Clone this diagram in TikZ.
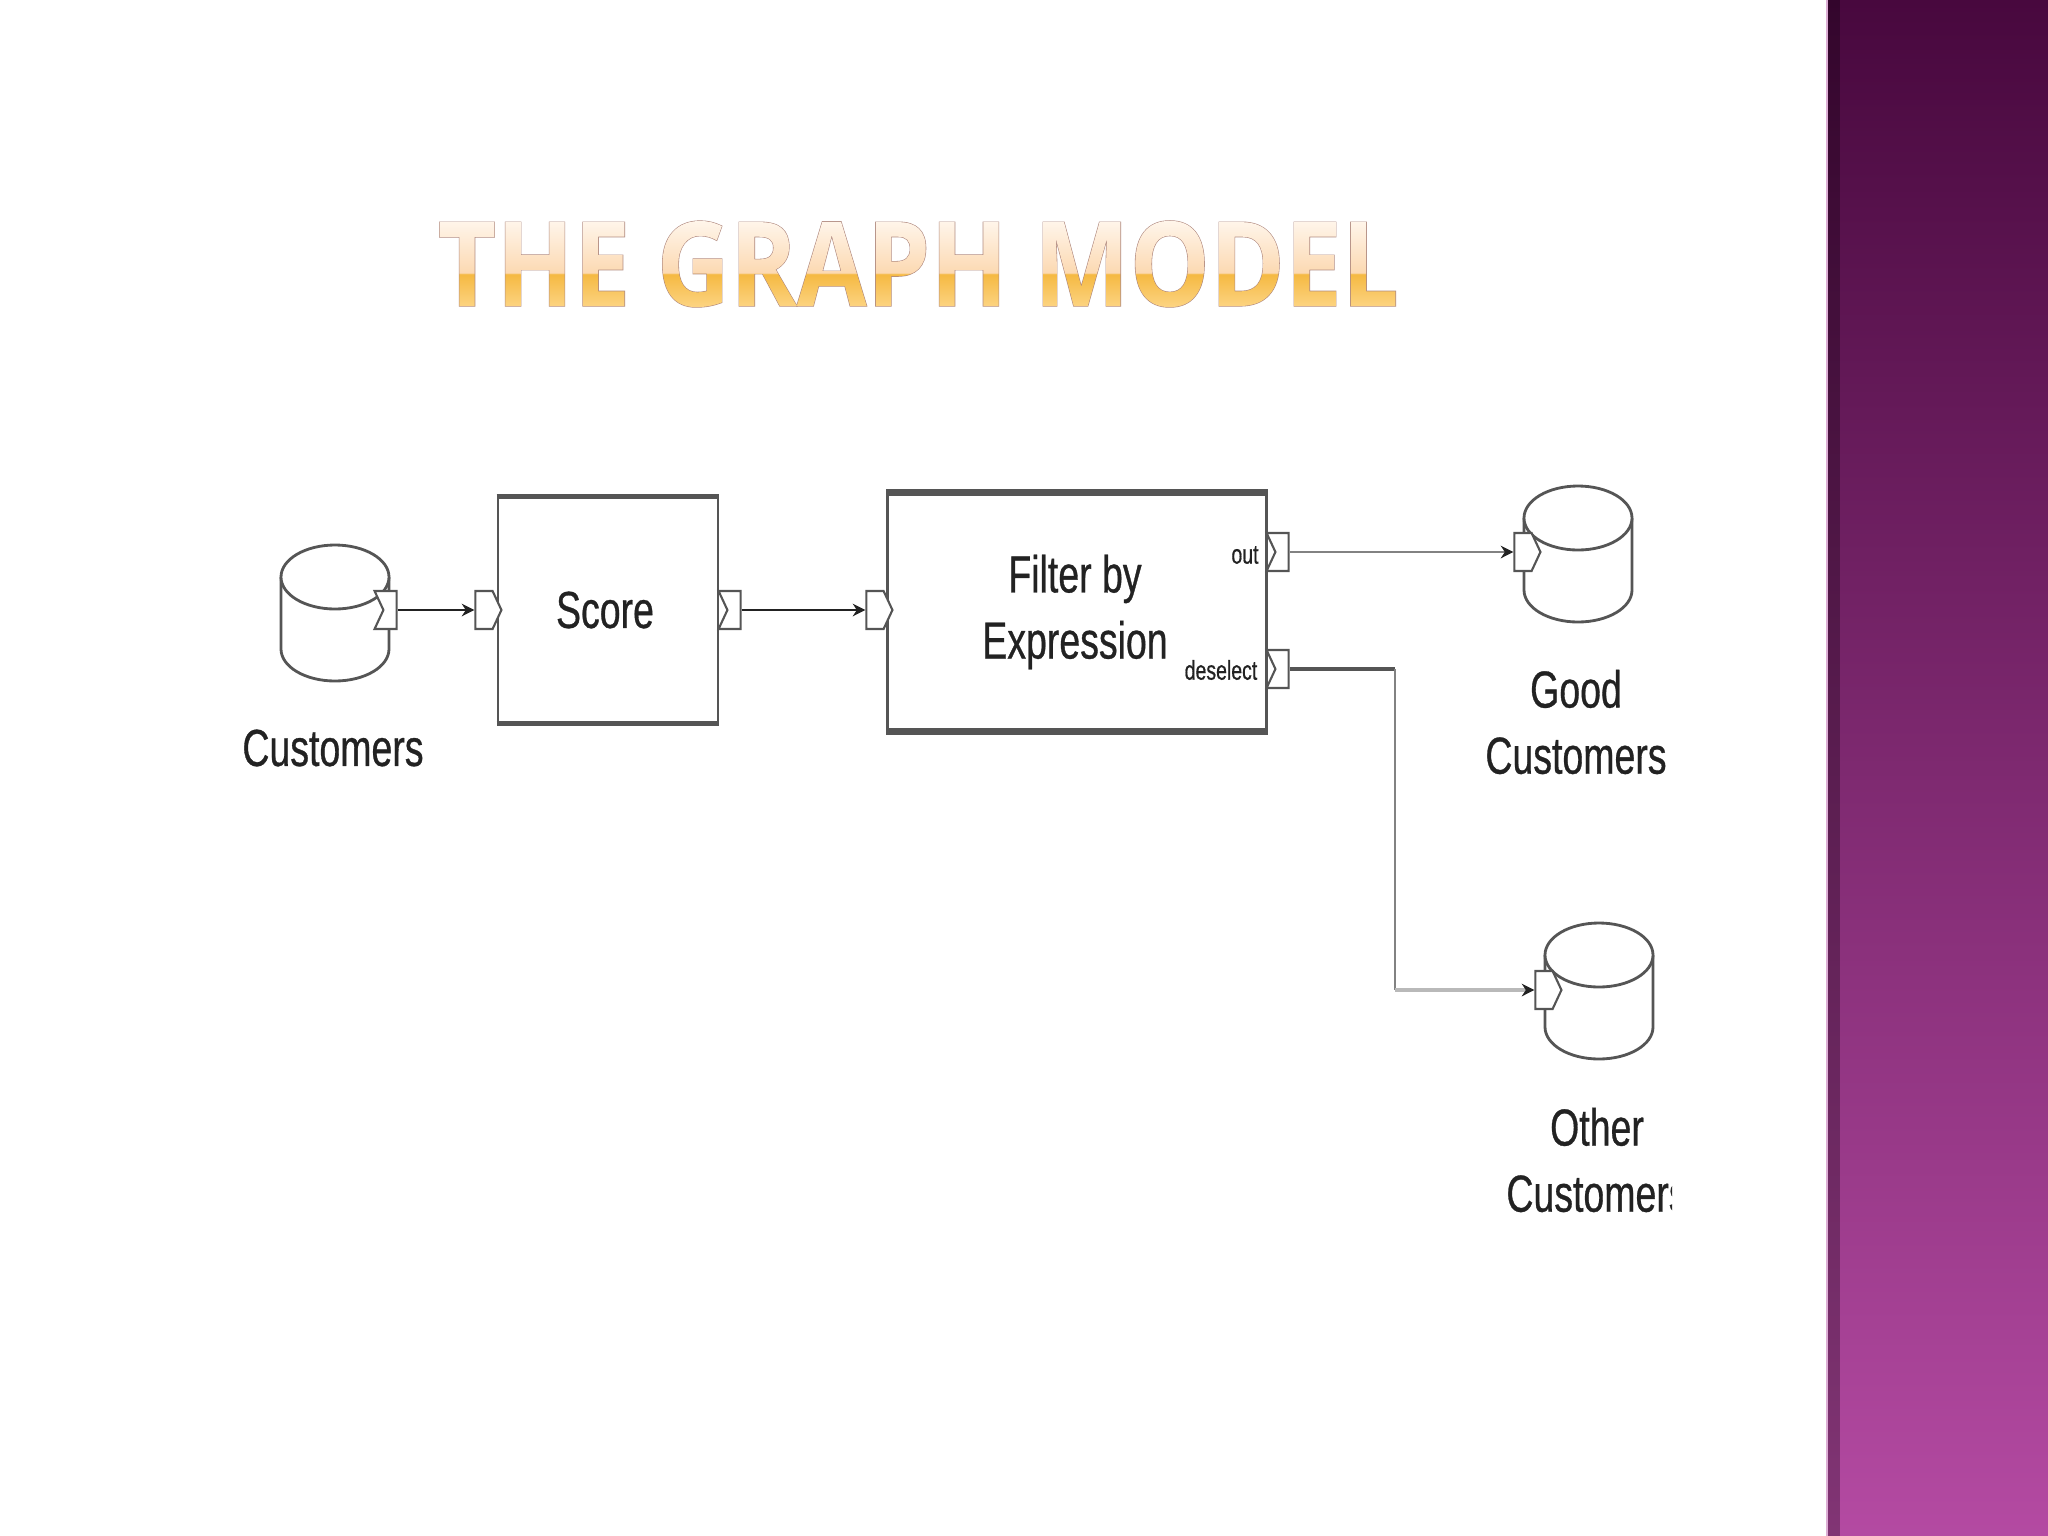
\documentclass[tikz,border=0pt]{standalone}
\usepackage{fontspec}
\usepackage{xcolor}
\setmainfont{Liberation Sans}
\newfontfamily\labelfont[FakeStretch=0.72,FakeBold=0.6]{Liberation Sans}
\newfontfamily\titlefont[FakeStretch=0.862]{Open Sans}
\newfontfamily\titleedge[FakeStretch=0.862,FakeBold=1.0]{Open Sans}
\definecolor{gmink}{RGB}{34,34,34}
\definecolor{gmline}{RGB}{85,85,85}
\definecolor{gmgray}{RGB}{130,130,130}
\definecolor{gmpale}{RGB}{185,185,185}
\definecolor{gmedge}{RGB}{176,138,128}
\definecolor{gmpanelT}{RGB}{72,8,62}
\definecolor{gmpanelB}{RGB}{180,74,162}
\definecolor{gmcreamA}{RGB}{255,247,238}
\definecolor{gmcreamB}{RGB}{252,217,178}
\definecolor{gmorangeA}{RGB}{245,185,66}
\definecolor{gmorangeB}{RGB}{253,214,135}
\usetikzlibrary{arrows.meta,positioning,shapes.geometric,shapes.symbols}
\pgfdeclareverticalshading{titlegrad}{280bp}{
  color(0bp)=(gmorangeB); color(10bp)=(gmorangeA);
  color(10.4bp)=(gmcreamB); color(26bp)=(gmcreamA)}
\newcommand\gmtitle{\special{pdf:code q 7 Tr}\rlap{THE GRAPH MODEL}\special{pdf:code 0 Tr}%
  \hspace{-3pt}\raisebox{-1pt}{\pgfuseshading{titlegrad}}\special{pdf:code Q}}
\tikzset{
  stagebox/.style={draw=gmline, line width=0.7pt, fill=white, inner sep=0pt},
  stagecap/.style={draw=gmline, line width=1.5pt},
  store/.pic={
    \draw[gmline, line width=0.8pt, fill=white] (-54,-36) -- (-54,36)
      arc[start angle=180, end angle=0, x radius=54, y radius=32] -- (54,-36);
    \draw[gmline, line width=0.8pt, fill=white] (0,-36) circle[x radius=54, y radius=32];
  },
  inport/.style={signal, signal to=east, signal pointer angle=130, draw=gmline, line width=0.6pt,
    fill=white, minimum width=0.26cm, minimum height=0.38cm, inner sep=0pt},
  outport/.style={signal, signal from=west, signal to=nowhere, signal pointer angle=130, draw=gmline,
    line width=0.6pt, fill=white, minimum width=0.22cm, minimum height=0.38cm, inner sep=0pt},
  biglabel/.style={font=\labelfont\fontsize{14.8}{18.8}\selectfont, text=gmink, align=center, inner sep=0pt},
  tinylabel/.style={font=\labelfont\fontsize{7.7}{9}\selectfont, text=gmink, inner sep=0pt},
  flow/.style={-{Stealth[length=3.6pt,width=3.6pt]}, draw=gmink, line width=0.6pt},
}
\begin{document}
\begin{tikzpicture}[x=0.01cm, y=-0.01cm]
\useasboundingbox (0,0) rectangle (2048,1536);
% Side panel
\shade[top color=gmpanelT, bottom color=gmpanelB] (1826,0) rectangle (2048,1536);
\fill[gmpanelB!45!white] (1826,0) rectangle (1828,1536);
\fill[black, opacity=0.28] (1828,0) rectangle (1840,1536);
% Title
\node[inner sep=0pt, anchor=base west, text=gmedge, font=\titleedge\bfseries\fontsize{33.4}{36}\selectfont] (title) at (437,306) {THE GRAPH MODEL};
\node[inner sep=0pt, anchor=base west, font=\titlefont\bfseries\fontsize{33.4}{36}\selectfont] (titlefill) at (437,306) {\gmtitle};
% Stages
\node[stagebox, minimum width=2.20cm, minimum height=2.24cm] (score) at (608,610) {};
\node[biglabel] (scoretext) at (605,610) {Score};
\draw[stagecap] (score.north west) -- (score.north east);
\draw[stagecap] (score.south west) -- (score.south east);
\node[stagebox, minimum width=3.79cm, minimum height=2.37cm] (filter) at (1077,612) {};
\node[biglabel] (filtertext) at (1075,612) {Filter by\\Expression};
\draw[stagecap, line width=2pt] (filter.north west) -- (filter.north east);
\draw[stagecap, line width=2pt] (filter.south west) -- (filter.south east);
\node[tinylabel] (outtext) at (1245,555) {out};
\node[tinylabel] (deselecttext) at (1221,670) {deselect};
% Stores
\pic (customers) at (335,613) {store};
\pic (good) at (1578,554) {store};
\pic (other) at (1599,991) {store};
\node[biglabel] (customerstext) at (333,748) {Customers};
\node[biglabel] (goodtext) at (1576,722) {Good\\Customers};
\begin{scope}
\clip (1480,1090) rectangle (1672,1230);
\node[biglabel] (othertext) at (1597,1160) {Other\\Customers};
\end{scope}
% Ports
\node[outport] (customersout) at (390,610) {};
\node[inport] (scorein) at (484,610) {};
\node[outport] (scoreout) at (734,610) {};
\node[inport] (filterin) at (875,610) {};
\node[outport] (filterout) at (1282,552) {};
\node[outport] (filterdrop) at (1282,669) {};
\node[inport] (goodin) at (1523,552) {};
\node[inport] (otherin) at (1544,990) {};
\coordinate (bendtop) at (1395,669);
\coordinate (bendlow) at (1395,990);
% Connectors
\draw[flow] (customersout) -- (scorein);
\draw[flow] (scoreout) -- (filterin);
\draw[flow, -{Stealth[length=3.6pt,width=3.6pt,color=gmink]}, draw=gmgray, line width=0.8pt] (filterout) -- (goodin);
\draw[gmline, line width=1.4pt] (filterdrop) -- (bendtop);
\draw[gmgray, line width=0.8pt] (bendtop) -- (bendlow);
\draw[flow, -{Stealth[length=3.6pt,width=3.6pt,color=gmink]}, draw=gmpale, line width=1.4pt] (bendlow) -- (otherin);
\end{tikzpicture}
\end{document}
